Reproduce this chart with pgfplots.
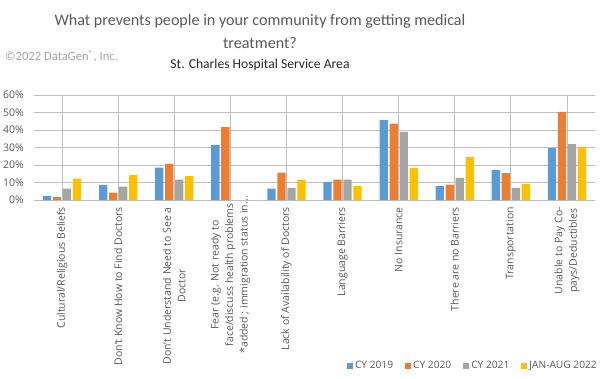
\documentclass[border=0pt]{standalone}
\usepackage{pgfplots}
\pgfplotsset{compat=1.18}
\usepackage{fontspec}
\setmainfont{Open Sans}
\newfontfamily\calib{Carlito}
\definecolor{cA}{HTML}{5B9BD5}
\definecolor{cB}{HTML}{ED7D31}
\definecolor{cC}{HTML}{A5A5A5}
\definecolor{cD}{HTML}{FFC000}
\definecolor{txt}{HTML}{595959}
\definecolor{grid}{HTML}{D9D9D9}
\newcommand{\dotsx}{{.}{.}{.}}
\newcommand{\lf}{\fontsize{10.5}{14.5}\selectfont}
\pgfplotsset{sq/.style={legend image code/.code={\fill[##1] (0pt,-3pt) rectangle (6pt,3pt);}}}
\begin{document}
\begin{tikzpicture}
\useasboundingbox (0,0) rectangle (608pt,378pt);
\node[font=\calib\fontsize{16.1}{18}\selectfont, text=txt] at (260pt,357pt) {What prevents people in your community from getting medical};
\node[font=\calib\fontsize{16.1}{18}\selectfont, text=txt] at (260pt,335pt) {treatment?};
\node[font=\calib\fontsize{13.6}{15}\selectfont, text=black!85] at (260pt,313pt) {St. Charles Hospital Service Area};
\node[font=\calib\fontsize{12.6}{14}\selectfont, text=black!35, anchor=west, inner sep=0pt] at (5pt,322pt) {©2022 DataGen\textsuperscript{®}, Inc.};
\begin{axis}[
  at={(34pt,178pt)}, anchor=south west,
  width=561pt, height=105pt, scale only axis,
  xmin=-0.5, xmax=9.5, ymin=0, ymax=60,
  ybar=1.7pt, bar width=8.3pt,
  axis line style={draw=none},
  major tick length=0pt,
  ymajorgrids, grid style={grid, line width=0.8pt},
  ytick={0,10,20,30,40,50,60},
  yticklabels={0\%,10\%,20\%,30\%,40\%,50\%,60\%},
  yticklabel style={font=\lf, text=txt, inner sep=0pt, anchor=east},
  yticklabel shift=10pt,
  xtick={0,1,2,4,5,6,7,8,9},
  xticklabels={Cultural/Religious Beliefs, Don’t Know How to Find Doctors, {Don’t Understand Need to See a\\Doctor}, Lack of Availability of Doctors, Language Barriers, No Insurance, There are no Barriers, Transportation, {Unable to Pay Co-\\pays/Deductibles}},
  xticklabel style={font=\lf, text=txt, rotate=90, anchor=east, align=center, inner sep=0pt},
  xticklabel shift=7pt,
  extra x ticks={3},
  extra x tick labels={{Fear (e.g. Not ready to\\face/discuss health problems\\*added ; immigration status in\dotsx}},
  extra x tick style={xticklabel style={xshift=11pt}},
  legend style={at={(1.0125,-1.581)}, anchor=east, draw=none, fill=none, legend columns=4,
    font=\fontsize{10.2}{12}\selectfont, text=txt,
    /tikz/every even column/.append style={column sep=10pt}},
]
\addplot[fill=cA, draw=none, sq] coordinates {(0,2.3) (1,8.6) (2,18.5) (3,31.4) (4,6.5) (5,10.3) (6,45.7) (7,8.0) (8,17.1) (9,29.7)};
\addplot[fill=cB, draw=none, sq] coordinates {(0,1.7) (1,4.2) (2,20.6) (3,41.7) (4,15.6) (5,11.6) (6,43.6) (7,8.8) (8,15.4) (9,50.3)};
\addplot[fill=cC, draw=none, sq] coordinates {(0,6.5) (1,7.6) (2,11.6) (3,0) (4,7.0) (5,11.6) (6,38.9) (7,12.6) (8,6.9) (9,32.0)};
\addplot[fill=cD, draw=none, sq] coordinates {(0,12.2) (1,14.3) (2,13.7) (3,0) (4,11.6) (5,8.0) (6,18.3) (7,24.6) (8,9.1) (9,30.3)};
\legend{CY 2019, CY 2020, CY 2021, JAN-AUG 2022}
\end{axis}
\end{tikzpicture}
\end{document}
